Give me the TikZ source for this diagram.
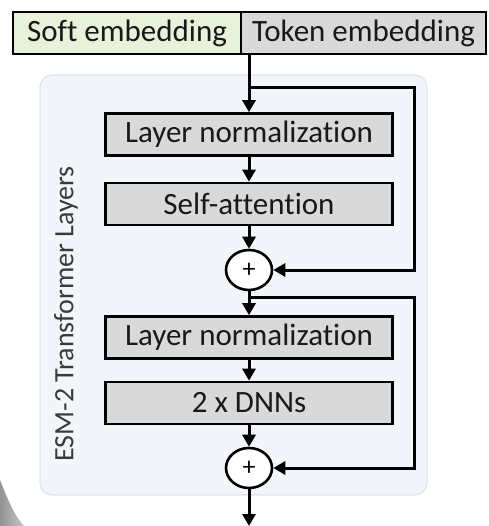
\documentclass[tikz,border=0pt]{standalone}
\usepackage{fontspec}
\setmainfont[Ligatures=NoCommon]{Carlito}
\usetikzlibrary{arrows.meta,shapes.geometric,calc}
\definecolor{softgreen}{HTML}{E8F1DA}
\definecolor{boxgrey}{HTML}{D9D9D9}
\definecolor{panelfill}{HTML}{F2F6FB}
\definecolor{panelline}{HTML}{E1E5EB}
\definecolor{labelgrey}{HTML}{3A3A3A}
\tikzset{
  blockbox/.style={draw=black, line width=2.6pt, fill=boxgrey, minimum width=287pt, minimum height=42pt, inner sep=0pt, font=\fontsize{31}{31}\selectfont, text=black!90},
  embbox/.style={draw=black, line width=2.4pt, minimum height=42pt, inner sep=0pt, font=\fontsize{31}{31}\selectfont, text=black!90},
  addnode/.style={draw=black, line width=2.6pt, fill=white, ellipse, minimum width=46pt, minimum height=40pt, inner sep=0pt, font=\fontsize{26}{26}\selectfont},
  flow/.style={draw=black, line width=3pt, -{Triangle[length=12pt,width=13pt]}},
}
\begin{document}
\begin{tikzpicture}[x=1pt,y=-1pt]
\useasboundingbox (0,0) rectangle (488,526);
% soft corner shadow
\shade[left color=gray!85, right color=gray!45] (0,480) .. controls (8,500) and (14,515) .. (24,526) -- (0,526) -- cycle;
% background panel of the transformer layers
\node[draw=panelline, line width=1.2pt, fill=panelfill, rounded corners=12pt, minimum width=387pt, minimum height=420pt, inner sep=0pt] (panel) at (233.5,285) {};
% embeddings
\node[embbox, fill=softgreen, minimum width=228pt] (soft) at (127,33) {Soft embedding};
\node[embbox, fill=boxgrey, minimum width=245pt] (token) at (363.5,33) {Token embedding};
% first sub-layer
\node[blockbox] (ln1) at (249,134.5) {Layer normalization};
\node[blockbox] (sa) at (249,204) {Self-attention};
\node[addnode] (add1) at (249,270) {+};
% second sub-layer
\node[blockbox] (ln2) at (249,337.5) {Layer normalization};
\node[blockbox] (dnn) at (249,403) {2 x DNNs};
\node[addnode] (add2) at (249,468) {+};
% side label
\node[rotate=90, text=labelgrey, font=\fontsize{28}{28}\selectfont] (label) at (66,314) {ESM-2 Transformer Layers};
% branch points and output end
\coordinate (b1) at (249,88);
\coordinate (r1) at (414,88);
\coordinate (b2) at (249,297);
\coordinate (r2) at (414,297);
\coordinate (out) at (249,526);
% connectors
\draw[flow] (249,54) -- (ln1.north);
\draw[flow] (ln1) -- (sa);
\draw[flow] (sa) -- (add1);
\draw[flow] (b1) -- (r1) |- (add1.east);
\draw[flow] (add1) -- (ln2);
\draw[flow] (ln2) -- (dnn);
\draw[flow] (dnn) -- (add2);
\draw[flow] (b2) -- (r2) |- (add2.east);
\draw[flow] (add2) -- (out);
\end{tikzpicture}
\end{document}
